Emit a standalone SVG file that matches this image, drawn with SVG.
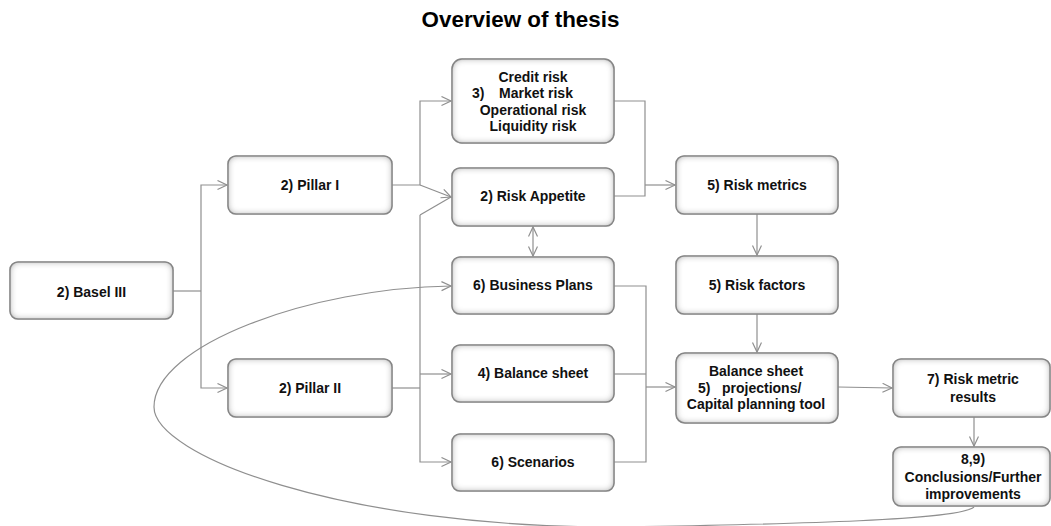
<svg xmlns="http://www.w3.org/2000/svg" width="1051" height="526" viewBox="0 0 1051 526">
<defs>
<filter id="inset" x="-5%" y="-10%" width="110%" height="120%">
<feFlood flood-color="#6a6a6a"/>
<feComposite in2="SourceAlpha" operator="out"/>
<feGaussianBlur stdDeviation="3.5"/>
<feComposite in2="SourceAlpha" operator="in" result="sh"/>
<feMerge><feMergeNode in="SourceGraphic"/><feMergeNode in="sh"/></feMerge>
</filter>
<marker id="arr" markerUnits="userSpaceOnUse" markerWidth="12" markerHeight="12" viewBox="0 0 12 12" refX="10" refY="5" orient="auto-start-reverse">
<path d="M0.5,0.5 L10,5 L0.5,9.5" fill="none" stroke="#8f8f8f" stroke-width="1.2"/>
</marker>
</defs>
<style>
.box{fill:#ffffff;stroke:#9a9a9a;stroke-width:1.5;filter:url(#inset)}
.t{font-family:"Liberation Sans",Arial,sans-serif;font-weight:bold;font-size:14px;fill:#111111;text-anchor:middle}
.ts{font-family:"Liberation Sans",Arial,sans-serif;font-weight:bold;font-size:14px;fill:#111111}
.c{fill:none;stroke:#8f8f8f;stroke-width:1.2}
.title{font-family:"Liberation Sans",Arial,sans-serif;font-weight:bold;font-size:22.4px;fill:#000000;text-anchor:middle}
</style>
<rect width="1051" height="526" fill="#ffffff"/>
<text class="title" x="520.5" y="27">Overview of thesis</text>

<g id="connectors">
<path class="c" d="M173 291 H201"/>
<path class="c" d="M201 291 V185 H227" marker-end="url(#arr)"/>
<path class="c" d="M201 291 V388 H227" marker-end="url(#arr)"/>
<path class="c" d="M392 185 H420 V101 H451" marker-end="url(#arr)"/>
<path class="c" d="M420 185 L451 197" marker-end="url(#arr)"/>
<path class="c" d="M420 215 L451 197"/>
<path class="c" d="M392 388 H420"/>
<path class="c" d="M420 215 V462 H451" marker-end="url(#arr)"/>
<path class="c" d="M420 374 H451" marker-end="url(#arr)"/>
<path class="c" d="M614 101 H645 V196 H614"/>
<path class="c" d="M645 185 H675" marker-end="url(#arr)"/>
<path class="c" d="M757 214 V255" marker-end="url(#arr)"/>
<path class="c" d="M533 227 V256" marker-start="url(#arr)" marker-end="url(#arr)"/>
<path class="c" d="M614 286 H646 V462 H614"/>
<path class="c" d="M614 374 H646"/>
<path class="c" d="M646 387 H675" marker-end="url(#arr)"/>
<path class="c" d="M757 314 V352" marker-end="url(#arr)"/>
<path class="c" d="M838 387 L892 388" marker-end="url(#arr)"/>
<path class="c" d="M974 417 V446" marker-end="url(#arr)"/>
<path class="c" d="M974 507 C960 520 800 524 620 527 C340 528 154 455 154 407 C154 345 310 288 451 286" marker-end="url(#arr)"/>
</g>

<g id="basel3">
<rect class="box" x="10" y="262" width="163" height="57" rx="8"/>
<text class="t" x="91.5" y="297">2) Basel III</text>
</g>
<g id="pillar1">
<rect class="box" x="228" y="156" width="164" height="58" rx="8"/>
<text class="t" x="310" y="190">2) Pillar I</text>
</g>
<g id="pillar2">
<rect class="box" x="228" y="359" width="164" height="58" rx="8"/>
<text class="t" x="310" y="393">2) Pillar II</text>
</g>
<g id="risks">
<rect class="box" x="452" y="59" width="162" height="84" rx="10"/>
<text class="t" x="533" y="82">Credit risk</text>
<text class="ts" x="472" y="98">3)</text>
<text class="ts" x="499" y="98">Market risk</text>
<text class="t" x="533" y="115">Operational risk</text>
<text class="t" x="533" y="131">Liquidity risk</text>
</g>
<g id="riskappetite">
<rect class="box" x="452" y="168" width="162" height="58" rx="8"/>
<text class="t" x="533" y="201">2) Risk Appetite</text>
</g>
<g id="businessplans">
<rect class="box" x="452" y="257" width="162" height="57" rx="8"/>
<text class="t" x="533" y="290">6) Business Plans</text>
</g>
<g id="balancesheet">
<rect class="box" x="452" y="345" width="162" height="57" rx="8"/>
<text class="t" x="533" y="378">4) Balance sheet</text>
</g>
<g id="scenarios">
<rect class="box" x="452" y="434" width="162" height="57" rx="8"/>
<text class="t" x="533" y="467">6) Scenarios</text>
</g>
<g id="riskmetrics">
<rect class="box" x="676" y="156" width="162" height="58" rx="8"/>
<text class="t" x="757" y="190">5) Risk metrics</text>
</g>
<g id="riskfactors">
<rect class="box" x="676" y="256" width="162" height="58" rx="8"/>
<text class="t" x="757" y="290">5) Risk factors</text>
</g>
<g id="bsprojections">
<rect class="box" x="676" y="353" width="162" height="70" rx="9"/>
<text class="t" x="756" y="376">Balance sheet</text>
<text class="ts" x="698" y="393">5)</text>
<text class="ts" x="722" y="393">projections/</text>
<text class="t" x="756" y="409">Capital planning tool</text>
</g>
<g id="riskmetricresults">
<rect class="box" x="893" y="359" width="157" height="58" rx="8"/>
<text class="t" x="973" y="384">7) Risk metric</text>
<text class="t" x="973" y="402">results</text>
</g>
<g id="conclusions">
<rect class="box" x="893" y="447" width="157" height="59" rx="8"/>
<text class="t" x="973" y="464">8,9)</text>
<text class="t" x="973" y="482">Conclusions/Further</text>
<text class="t" x="973" y="499">improvements</text>
</g>
</svg>
